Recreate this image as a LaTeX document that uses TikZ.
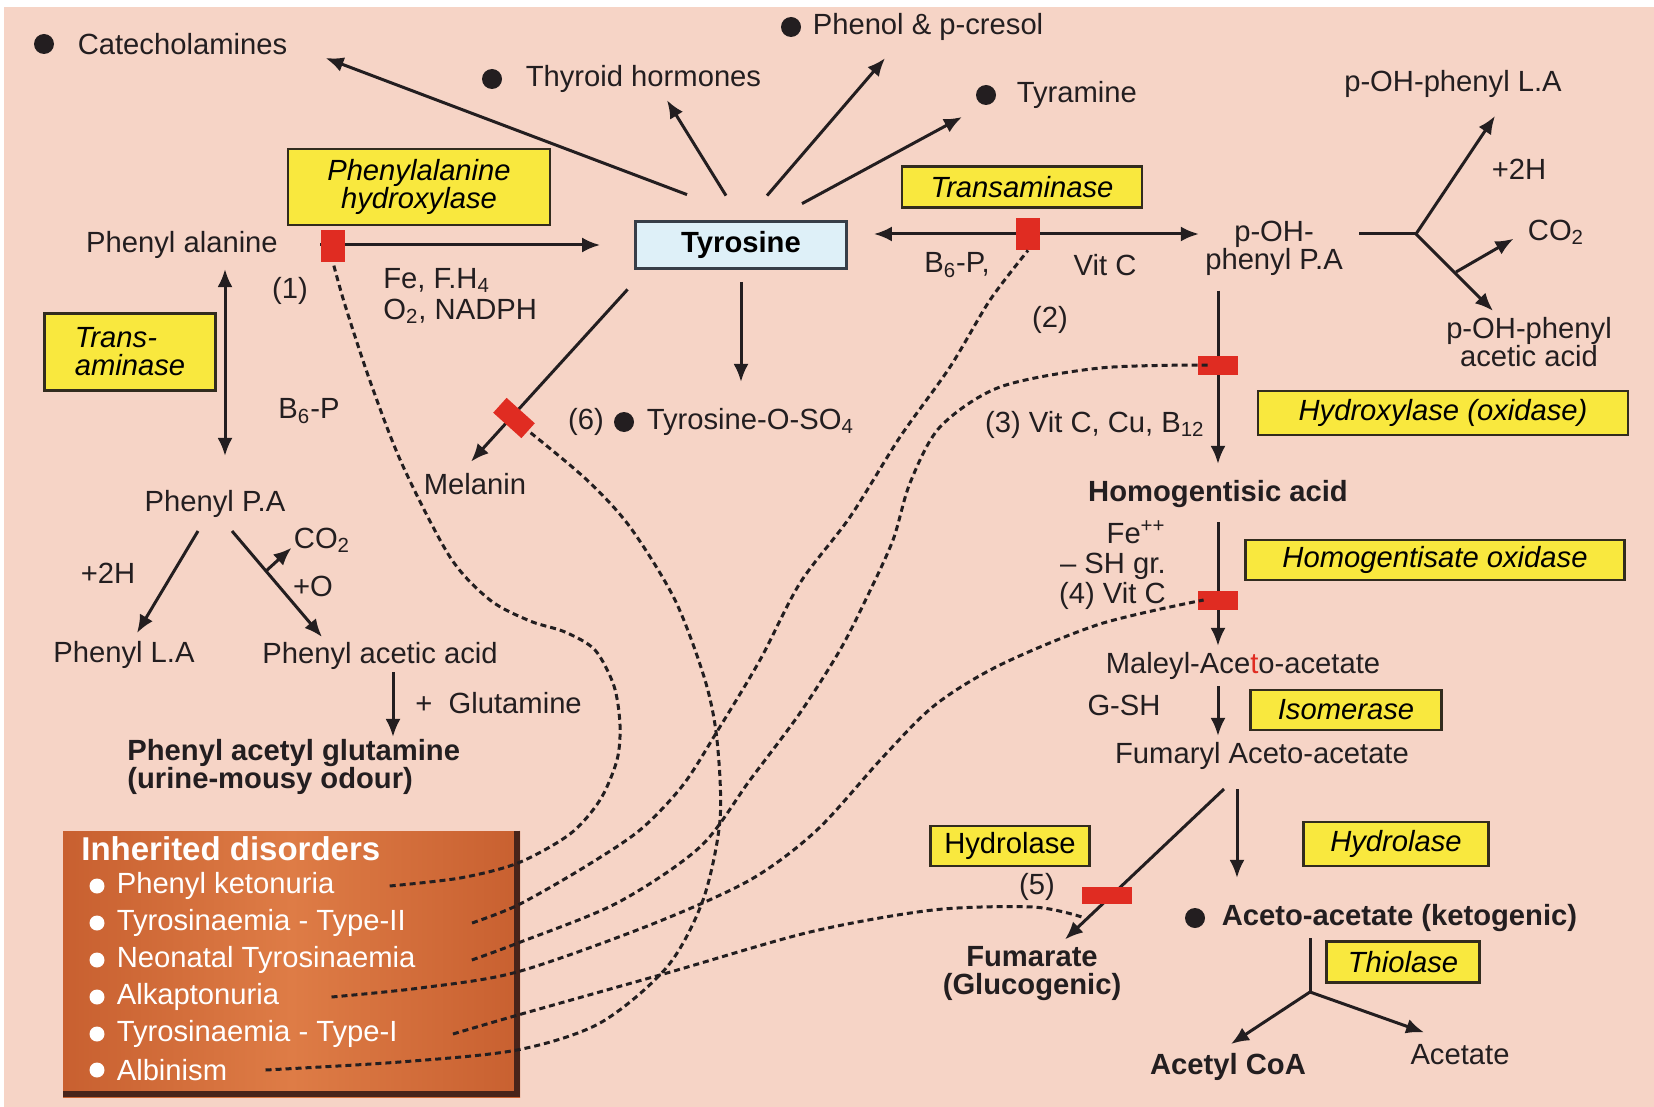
\documentclass[tikz,border=0pt]{standalone}
\usepackage{fontspec}
\setmainfont{Liberation Sans}
\usetikzlibrary{arrows.meta,positioning,calc}
\definecolor{bgpink}{RGB}{246,212,198}
\definecolor{inkcol}{RGB}{35,30,32}
\definecolor{boxline}{RGB}{50,44,30}
\definecolor{enzyellow}{RGB}{249,232,62}
\definecolor{tyrblue}{RGB}{222,240,248}
\definecolor{tyrline}{RGB}{55,62,72}
\definecolor{blkred}{RGB}{224,44,34}
\definecolor{orgdark}{RGB}{200,96,48}
\definecolor{orglight}{RGB}{222,124,70}
\definecolor{shadowcol}{RGB}{72,36,26}
\tikzset{
  txt/.style = {inner sep=1pt, text=inkcol},
  txt_b/.style = {txt, font=\bfseries},
  txt_w/.style = {inner sep=1pt, text=white},
  dot_b/.style = {circle, fill=inkcol, inner sep=0pt, minimum size=10pt},
  dot_w/.style = {circle, fill=white, inner sep=0pt, minimum size=7.5pt},
  enz_box/.style = {draw=boxline, fill=enzyellow, line width=1.4pt, inner sep=2pt, align=center},
  enz_it/.style = {enz_box, font=\itshape},
  tyr_box/.style = {draw=tyrline, fill=tyrblue, line width=1.4pt, font=\bfseries,
                    minimum width=105.5pt, minimum height=23.5pt},
  red_blk/.style = {fill=blkred, inner sep=0pt},
  arr/.style = {draw=inkcol, line width=1.5pt, -{Latex[length=9pt,width=7.5pt]}},
  dbl/.style = {arr, {Latex[length=9pt,width=7.5pt]}-{Latex[length=9pt,width=7.5pt]}},
  ln/.style = {draw=inkcol, line width=1.5pt},
  dis_line/.style = {draw=inkcol, line width=1.5pt, dash pattern=on 3pt off 2pt},
  dis_box/.style = {left color=orgdark, right color=orgdark, middle color=orglight, inner sep=0pt},
}
\newcommand{\subs}[1]{\textsubscript{#1}}

\begin{document}
\begin{tikzpicture}[x=0.5pt, y=-0.5pt]
  \fontsize{14.6}{14}\selectfont
  \useasboundingbox (0,0) rectangle (1654,1107);
  \fill[white] (0,0) rectangle (1654,1107);
  \fill[bgpink] (4,7) rectangle (1654,1107);

  % products of tyrosine
  \node[dot_b] (catd) at (44,44) {};
  \node[txt, right=10.5pt of catd] (cat) {Catecholamines};
  \node[dot_b] (thyd) at (492,79) {};
  \node[txt, right=10.5pt of thyd] (thy) {Thyroid hormones};
  \node[dot_b] (phed) at (791,27) {};
  \node[txt, right=4.5pt of phed] (phe) {Phenol \& p-cresol};
  \node[dot_b] (tyrd) at (986,95) {};
  \node[txt, right=9pt of tyrd] (tyr) {Tyramine};

  % phenylalanine side
  \node[enz_it, minimum width=131pt, minimum height=38pt] (pah) at (419,187) {Phenylalanine\\hydroxylase};
  \node[tyr_box] (tyro) at (741,245) {Tyrosine};
  \node[txt] (phe_ala) at (182,245) {Phenyl alanine};
  \node[txt] (n1) at (290,291) {(1)};
  \node[txt, align=left, anchor=west, font=\fontsize{14.6}{15.5}\selectfont] (cof1) at (381,296) {Fe, F.H\subs{4}\\O\subs{2}, NADPH};
  \node[enz_it, align=left, minimum width=85.5pt, minimum height=38.5pt] (tam1) at (130,352) {Trans-\\aminase};
  \node[txt] (b6p1) at (309,411) {B\subs{6}-P};
  \node[txt] (ppa) at (215,504) {Phenyl P.A};
  \node[txt] (h2a) at (108,573) {+2H};
  \node[txt] (co2a) at (322,540) {CO\subs{2}};
  \node[txt] (plo) at (313,586) {+O};
  \node[txt] (pla) at (124,655) {Phenyl L.A};
  \node[txt] (paa) at (380,656) {Phenyl acetic acid};
  \node[txt, anchor=west] (glu) at (413,703) {+~~Glutamine};
  \node[txt_b, align=left, anchor=west] (pag) at (125,767) {Phenyl acetyl glutamine\\(urine-mousy odour)};

  % below tyrosine
  \node[txt] (mel) at (475,484) {Melanin};
  \node[txt] (n6) at (586,422) {(6)};
  \node[dot_b] (sd) at (624,422) {};
  \node[txt, right=5pt of sd] (sulf) {Tyrosine-O-SO\subs{4}};

  % tyrosine side
  \node[enz_it, minimum width=120pt, minimum height=20.5pt] (tam2) at (1022,187) {Transaminase};
  \node[txt, align=center] (pohpa) at (1274,248) {p-OH-\\phenyl P.A};
  \node[txt] (b6p2) at (957,265) {B\subs{6}-P,};
  \node[txt] (vitc1) at (1105,265) {Vit C};
  \node[txt] (n2) at (1050,320) {(2)};
  \node[txt] (pohla) at (1453,84) {p-OH-phenyl L.A};
  \node[txt] (h2b) at (1519,169) {+2H};
  \node[txt] (co2b) at (1556,232) {CO\subs{2}};
  \node[txt, align=center] (pohaa) at (1529,342) {p-OH-phenyl\\acetic acid};
  \coordinate (jct1) at (1416,234);

  \node[txt, anchor=east] (n3) at (1207,425) {(3) Vit C, Cu, B\subs{12}};
  \node[enz_it, minimum width=185pt, minimum height=22pt] (hyd) at (1443,413) {Hydroxylase (oxidase)};
  \node[txt_b] (hga) at (1218,494) {Homogentisic acid};
  \node[txt, align=right, anchor=east, font=\fontsize{14.6}{15}\selectfont] (cof4) at (1168,565) {Fe\textsuperscript{++}\\-- SH gr.\\(4) Vit C};
  \node[enz_it, minimum width=189.5pt, minimum height=20pt] (hgo) at (1435,560) {Homogentisate oxidase};
  \node[txt] (maa) at (1243,666) {Maleyl-Ace\textcolor{blkred}{t}o-acetate};
  \node[txt] (gsh) at (1124,705) {G-SH};
  \node[enz_it, minimum width=95.5pt, minimum height=20pt] (iso) at (1346,710) {Isomerase};
  \node[txt] (faa) at (1262,756) {Fumaryl Aceto-acetate};
  \node[enz_box, minimum width=79.5pt, minimum height=20pt] (hydl) at (1010,846) {Hydrolase};
  \node[enz_it, minimum width=92.5pt, minimum height=22pt] (hydr) at (1396,844) {Hydrolase};
  \node[txt] (n5) at (1037,887) {(5)};
  \node[dot_b] (acd) at (1195,918) {};
  \node[txt_b, right=7pt of acd] (aca) {Aceto-acetate (ketogenic)};
  \node[txt_b, align=center] (fum) at (1032,974) {Fumarate\\(Glucogenic)};
  \node[enz_it, minimum width=76.5pt, minimum height=20.5pt] (thio) at (1403,962) {Thiolase};
  \coordinate (jct3) at (1310,992);
  \node[txt_b] (acoa) at (1228,1067) {Acetyl CoA};
  \node[txt] (acet) at (1460,1055) {Acetate};

  % inherited disorders
  \node[dis_box, minimum width=228.5pt, minimum height=133pt] (dbox) at (291.5,964) {};
  \draw[shadowcol, line width=3pt] ([xshift=-1.5pt]dbox.north east)
    -- ([shift={(-1.5pt,1.5pt)}]dbox.south east) -- ([yshift=1.5pt]dbox.south west);
  \node[txt_w, anchor=west, font=\bfseries\fontsize{16.5}{18}\selectfont] (dtitle) at (79,849) {Inherited disorders};
  \node[dot_w] (wd1) at (97,886) {};
  \node[txt_w, right=4.75pt of wd1] (dis1) {Phenyl ketonuria};
  \node[dot_w] (wd2) at (97,923) {};
  \node[txt_w, right=4.75pt of wd2] (dis2) {Tyrosinaemia - Type-II};
  \node[dot_w] (wd3) at (97,960) {};
  \node[txt_w, right=4.75pt of wd3] (dis3) {Neonatal Tyrosinaemia};
  \node[dot_w] (wd4) at (97,997) {};
  \node[txt_w, right=4.75pt of wd4] (dis4) {Alkaptonuria};
  \node[dot_w] (wd5) at (97,1034) {};
  \node[txt_w, right=4.75pt of wd5] (dis5) {Tyrosinaemia - Type-I};
  \node[dot_w] (wd6) at (97,1070) {};
  \node[txt_w, right=4.75pt of wd6] (dis6) {Albinism};

  % arrows from tyrosine
  \draw[arr] ([shift={(-27pt,12.75pt)}]tyro.north) -- ([shift={(18pt,-7pt)}]cat.east);
  \draw[arr] ([shift={(-7.5pt,12.25pt)}]tyro.north) -- ([shift={(11.75pt,-2.6pt)}]thy.south);
  \draw[arr] ([shift={(13pt,12.25pt)}]tyro.north) -- ([shift={(-21.5pt,-7.6pt)}]phe.south);
  \draw[arr] ([shift={(30.5pt,8.25pt)}]tyro.north) -- ([shift={(-12pt,-11pt)}]tyrd.center);
  \draw[arr, shorten <=6pt, shorten >=12pt] (tyro.south) -- (tyro.south |- sulf.north);
  \draw[arr] ([shift={(-3.25pt,-9.75pt)}]tyro.south west) -- ([shift={(-2pt,4.6pt)}]mel.north);

  % phenylalanine side
  \draw[arr, shorten <=20pt, shorten >=17pt] (phe_ala.east) -- (phe_ala.east -| tyro.west);
  \draw[dbl, shorten <=4pt, shorten >=16pt] ($(ppa.north |- phe_ala.south)+(5pt,0)$) -- ($(ppa.north)+(5pt,0)$);
  \draw[arr] ([shift={(-8.5pt,-5.5pt)}]ppa.south) -- ([shift={(6.5pt,3pt)}]pla.north);
  \draw[arr] ([shift={(8.5pt,-5.5pt)}]ppa.south) -- ([shift={(-29pt,1.5pt)}]paa.north);
  \draw[arr] ([shift={(25.5pt,-25.5pt)}]ppa.south) -- ([shift={(0pt,3.5pt)}]co2a.south west);
  \draw[arr] ([xshift=6.5pt]paa.south) -- ([xshift=6.5pt]paa.south |- pag.north);

  % tyrosine degradation
  \draw[dbl, shorten <=13pt, shorten >=2pt] ($(tyro.east)+(0,5.5pt)$) -- ($(tyro.east -| pohpa.west)+(0,5.5pt)$);
  \draw[ln, shorten <=7pt] (pohpa.east |- jct1) -- (jct1);
  \draw[arr] (jct1) -- ([shift={(21pt,-8pt)}]pohla.south);
  \draw[arr] (jct1) -- ([shift={(-18pt,2pt)}]pohaa.north);
  \draw[arr] ([shift={(20pt,-19pt)}]jct1) -- ([shift={(-6pt,4pt)}]co2b.south west);
  \draw[arr, shorten <=6.5pt, shorten >=7pt] (hga.north |- pohpa.south) -- (hga.north);
  \draw[arr, shorten <=6pt, shorten >=2pt] (hga.south) -- (hga.south |- maa.north);
  \draw[arr, shorten <=2pt, shorten >=2pt] (maa.south -| hga.south) -- (faa.north -| hga.south);
  \draw[arr] ([shift={(-19pt,-8.5pt)}]faa.south) -- ([shift={(16.5pt,2.5pt)}]fum.north);
  \draw[arr, shorten <=8.5pt, shorten >=12pt] ($(faa.south)+(-12.5pt,0)$) -- ($(faa.south |- aca.north)+(-12.5pt,0)$);
  \draw[ln, shorten <=2pt] (jct3 |- aca.south) -- (jct3);
  \draw[arr] (jct3) -- ([shift={(1.5pt,3.5pt)}]acoa.north);
  \draw[arr] (jct3) -- ([shift={(8pt,5pt)}]acet.north west);

  % enzyme blocks
  \node[red_blk, minimum width=12pt, minimum height=16pt] (blk1) at (333,246) {};
  \node[red_blk, minimum width=12pt, minimum height=16pt] (blk2) at (1028,234) {};
  \node[red_blk, minimum width=20pt, minimum height=9.5pt] (blk3) at (1218,365) {};
  \node[red_blk, minimum width=20pt, minimum height=9.5pt] (blk4) at (1218,600) {};
  \node[red_blk, minimum width=25pt, minimum height=8.5pt] (blk5) at (1107,895) {};
  \node[red_blk, minimum width=19pt, minimum height=10pt, rotate=-42] (blk6) at (514,418) {};

  % disorder links
  \draw[dis_line] plot[smooth] coordinates {([xshift=26.5pt]dis1.east) (460,878) (518,863) (570,834)
    (600,800) (617,760) (620,725) (614,686) (595,650) (565,632) (530,621) (490,600) (450,557)
    (402,464) (370,381) (345,305) (blk1.south)};
  \draw[dis_line] plot[smooth] coordinates {([xshift=32pt]dis2.east) (518,905) (583,868) (640,830)
    (683,785) (718,730) (760,660) (800,583) (850,517) (900,437) (950,367) (990,300) (blk2.south)};
  \draw[dis_line] plot[smooth] coordinates {([xshift=27pt]dis3.east) (518,943) (617,903) (700,847)
    (750,780) (800,713) (840,650) (867,597) (893,540) (910,483) (940,427) (1000,387) (1100,368)
    ([xshift=5pt]blk3.west)};
  \draw[dis_line] plot[smooth] coordinates {([xshift=25pt]dis4.east) (420,988) (517,972) (650,925)
    (750,880) (817,830) (883,757) (935,705) (1000,665) (1100,624) ([xshift=3pt]blk4.west)};
  \draw[dis_line] plot[smooth] coordinates {([xshift=26.5pt]dis5.east) (518,1015) (667,973)
    (810,932) (933,910) (1033,907) ([yshift=-6.5pt]blk5.south west)};
  \draw[dis_line] plot[smooth] coordinates {([xshift=18pt]dis6.east) (400,1062) (517,1050) (600,1023)
    (667,967) (703,900) (720,820) (717,740) (705,680) (675,600) (630,527) (587,480) (blk6.east)};
\end{tikzpicture}
\end{document}
